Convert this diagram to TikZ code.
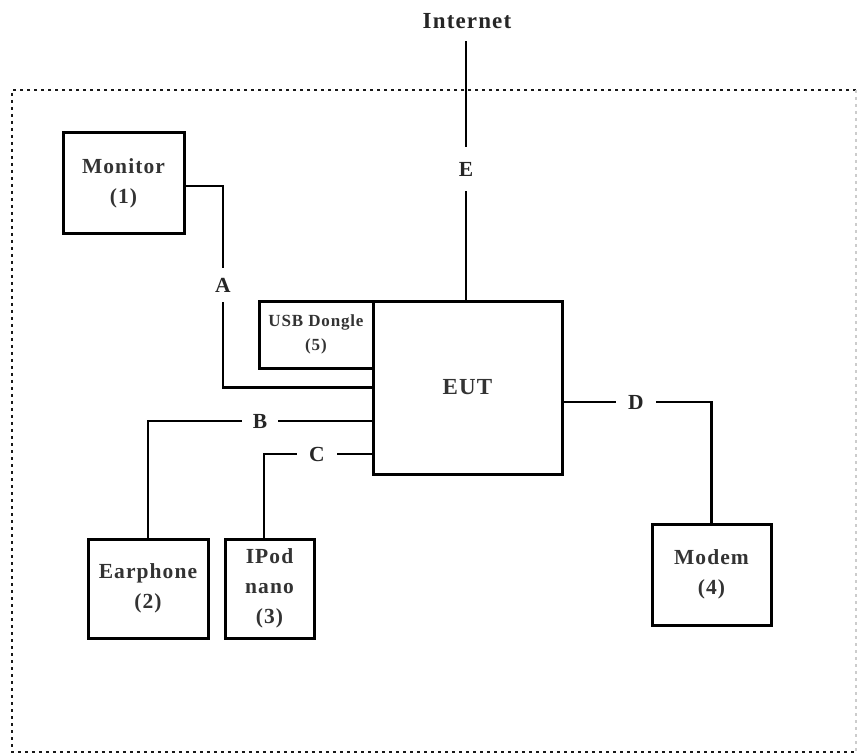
\documentclass[tikz,border=0pt]{standalone}
\usepackage{fontspec}
\setmainfont{Liberation Serif}[LetterSpace=5]
\begin{document}
\begin{tikzpicture}[x=1pt,y=-1pt,
  box/.style={draw=black,line width=3pt,fill=none,inner sep=0pt,align=center,text=black!80,font=\fontsize{21.5}{30}\selectfont\bfseries},
  wire/.style={line width=2.4pt,draw=black},
  lbl/.style={inner sep=0pt,minimum width=36pt,minimum height=34pt,text=black!85,font=\fontsize{21.5}{24}\selectfont\bfseries},
  frame/.style={line width=2.6pt,dash pattern=on 2.6pt off 4.4pt,draw=black!90}]
\useasboundingbox (0,0) rectangle (859,754);
% frame
\draw[frame] (856,90) -- (12,90) -- (12,752) -- (856,752);
\draw[frame,draw=black!20] (856,90) -- (856,752);
% boxes
\node[box,minimum width=121pt,minimum height=100pt] (mon) at (123.5,183) {Monitor\\(1)};
\node[box,minimum width=189pt,minimum height=173pt,font=\fontsize{23}{26}\selectfont\bfseries] (eut) at (467.5,387.5) {EUT};
\node[box,minimum width=114pt,minimum height=67pt,font=\fontsize{17}{24}\selectfont\bfseries] (usb) at (316,334.5) {USB Dongle\\(5)};
\node[box,minimum width=120pt,minimum height=99pt] (ear) at (148,588.5) {Earphone\\(2)};
\node[box,minimum width=89pt,minimum height=99pt] (ipod) at (269.5,588.5) {IPod\\nano\\(3)};
\node[box,minimum width=119pt,minimum height=101pt] (modem) at (711.5,574.5) {Modem\\(4)};
\node[inner sep=0pt,text=black!85,font=\fontsize{23}{24}\selectfont\bfseries] (inet) at (467,21) {Internet};
% labels
\node[lbl] (A) at (223,285) {A};
\node[lbl] (B) at (260,421) {B};
\node[lbl,minimum width=40pt] (C) at (317,454) {C};
\node[lbl,minimum width=40pt] (D) at (636,402) {D};
\node[lbl,minimum height=44pt] (E) at (466,169) {E};
% wires
\draw[wire] ([yshift=-3pt]mon.east) -| (A.north);
\draw[wire] (A.south) |- (eut.west);
\draw[wire] ([yshift=-33.5pt]eut.west) -- (B.east);
\draw[wire] (B.west) -| (ear.north);
\draw[wire] ([yshift=-66.5pt]eut.west) -- (C.east);
\draw[wire] (C.west) -| ([xshift=-5.5pt]ipod.north);
\draw[wire] ([yshift=-14.5pt]eut.east) -- (D.west);
\draw[wire] (D.east) -| (modem.north);
\draw[wire] (eut.north -| E) -- (E.south);
\draw[wire] (E.north) -- (E.north |- 0,41);
\end{tikzpicture}
\end{document}
